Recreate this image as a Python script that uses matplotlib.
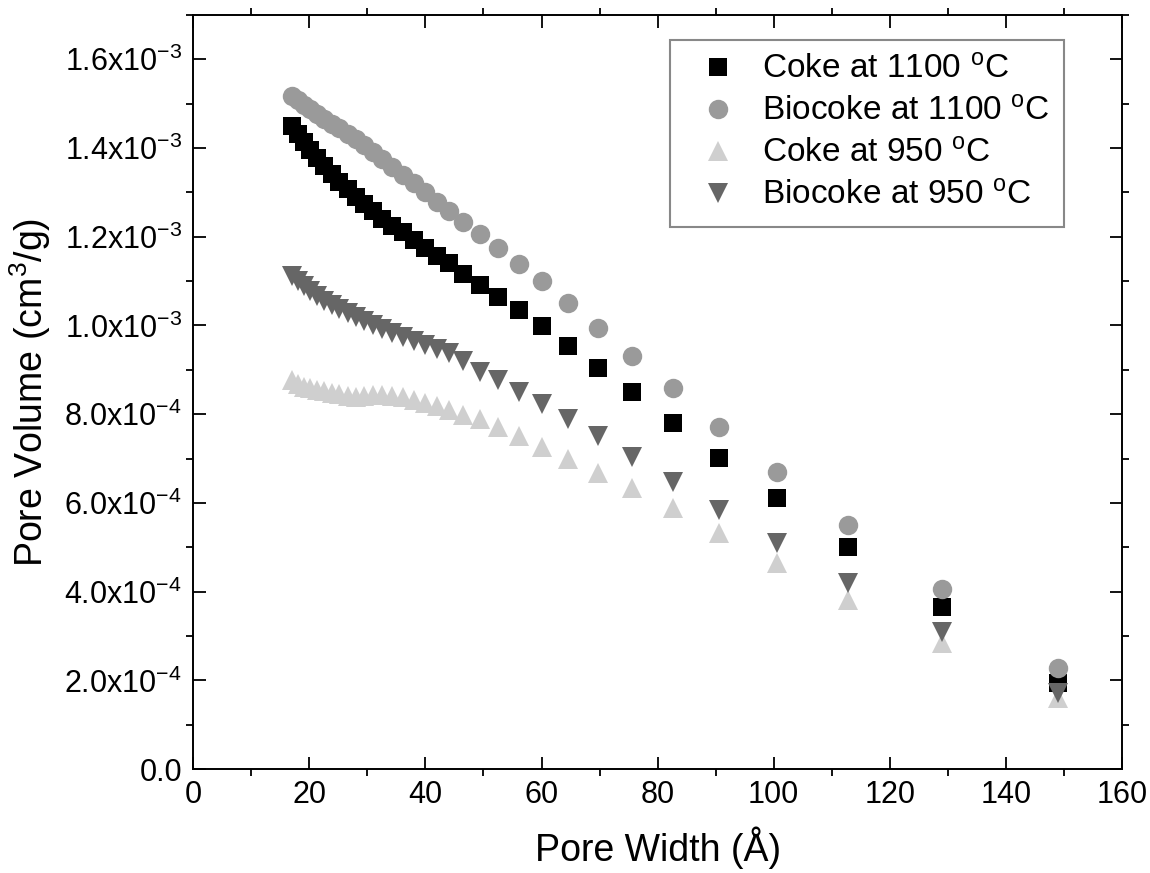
import matplotlib
matplotlib.use("Agg")
import matplotlib.pyplot as plt
from matplotlib.ticker import MultipleLocator, FuncFormatter

plt.rcParams["font.family"] = ["Liberation Sans", "DejaVu Sans"]
plt.rcParams["mathtext.fontset"] = "custom"
plt.rcParams["mathtext.rm"] = "Liberation Sans"
plt.rcParams["mathtext.it"] = "Liberation Sans"

# pore width (Angstrom), shared by all four series
width = [17.0, 18.0, 19.1, 20.2, 21.4, 22.6, 23.9, 25.2, 26.6, 28.0, 29.5,
         31.0, 32.6, 34.3, 36.1, 38.0, 40.0, 42.0, 44.1, 46.5, 49.4, 52.5,
         56.1, 60.1, 64.6, 69.8, 75.6, 82.6, 90.6, 100.6, 112.8, 129.0, 149.0]

# pore volume, in 1e-3 cm3/g
coke_1100 = [1.449, 1.431, 1.413, 1.395, 1.377, 1.359, 1.341, 1.323, 1.307,
             1.289, 1.273, 1.257, 1.240, 1.225, 1.210, 1.193, 1.175, 1.157,
             1.140, 1.115, 1.091, 1.065, 1.034, 0.998, 0.953, 0.905, 0.849,
             0.781, 0.702, 0.612, 0.500, 0.366, 0.194]
biocoke_1100 = [1.517, 1.507, 1.497, 1.487, 1.476, 1.465, 1.455, 1.444, 1.432,
                1.420, 1.406, 1.391, 1.375, 1.358, 1.340, 1.320, 1.300, 1.278,
                1.258, 1.233, 1.206, 1.174, 1.138, 1.099, 1.050, 0.995, 0.932,
                0.858, 0.772, 0.670, 0.551, 0.406, 0.228]
coke_950 = [0.878, 0.868, 0.862, 0.858, 0.855, 0.852, 0.848, 0.845, 0.842,
            0.838, 0.842, 0.843, 0.843, 0.842, 0.838, 0.832, 0.826, 0.818,
            0.810, 0.799, 0.788, 0.770, 0.750, 0.727, 0.698, 0.668, 0.634,
            0.589, 0.533, 0.465, 0.381, 0.284, 0.160]
biocoke_950 = [1.112, 1.100, 1.088, 1.077, 1.066, 1.056, 1.046, 1.036, 1.027,
               1.018, 1.009, 1.000, 0.991, 0.982, 0.973, 0.964, 0.955, 0.946,
               0.937, 0.919, 0.896, 0.876, 0.849, 0.822, 0.790, 0.750, 0.704,
               0.648, 0.585, 0.510, 0.420, 0.309, 0.172]

series = [
    ("Coke at 1100 $^{\\mathrm{o}}$C", coke_1100, "s", "#000000", 12.5),
    ("Biocoke at 1100 $^{\\mathrm{o}}$C", biocoke_1100, "o", "#9a9a9a", 14),
    ("Coke at 950 $^{\\mathrm{o}}$C", coke_950, "^", "#cfcfcf", 15),
    ("Biocoke at 950 $^{\\mathrm{o}}$C", biocoke_950, "v", "#666666", 15),
]


def fmt(v, pos):
    if abs(v) < 1e-12:
        return "0.0"
    exp = -3 if v >= 9.99e-4 else -4
    mant = v / 10 ** exp
    return "%.1fx10$^{%d}$" % (mant, exp)


fig = plt.figure(figsize=(11.5, 8.73), dpi=100)
ax = fig.add_axes([0.168, 0.119, 0.8077, 0.864])

for label, vals, mk, col, ms in series:
    ax.plot(width, [v * 1e-3 for v in vals], linestyle="none", marker=mk,
            markersize=ms, color=col, markeredgewidth=0, label=label)

ax.set_xlim(0, 160)
ax.set_ylim(0, 1.7e-3)
ax.xaxis.set_major_locator(MultipleLocator(20))
ax.xaxis.set_minor_locator(MultipleLocator(10))
ax.yaxis.set_major_locator(MultipleLocator(2e-4))
ax.yaxis.set_minor_locator(MultipleLocator(1e-4))
ax.yaxis.set_major_formatter(FuncFormatter(fmt))

ax.tick_params(which="major", direction="in", length=9, width=1.3,
               top=True, right=True, labelsize=22, pad=8)
ax.tick_params(which="minor", direction="out", length=5, width=1.3,
               top=True, right=True)
for s in ax.spines.values():
    s.set_linewidth(1.4)

ax.set_xlabel("Pore Width (Å)", fontsize=27, labelpad=12)
ax.set_ylabel("Pore Volume (cm$^3$/g)", fontsize=27, labelpad=8)

leg = ax.legend(loc="upper right", bbox_to_anchor=(0.938, 0.967),
                borderaxespad=0, fontsize=24, numpoints=1, fancybox=False,
                framealpha=1, edgecolor="#888888", handlelength=2.0,
                handletextpad=0.3, labelspacing=0.33, borderpad=0.45)
leg.get_frame().set_linewidth(1.5)

fig.savefig("out.png", dpi=100)
